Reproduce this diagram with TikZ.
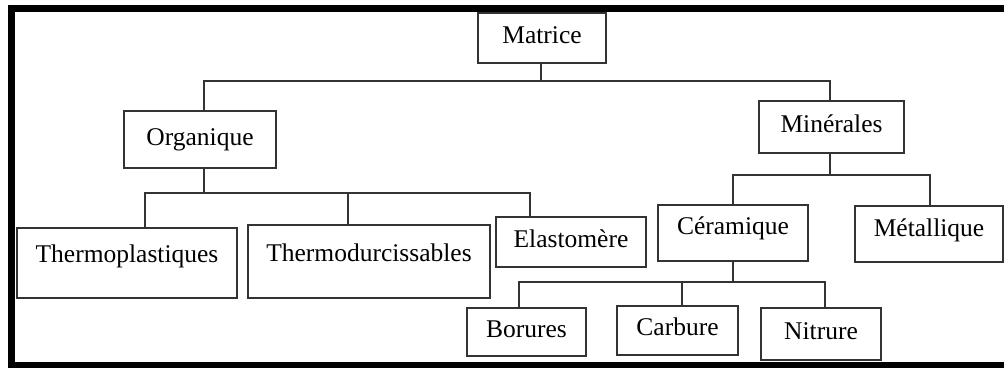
\documentclass[tikz,border=0pt]{standalone}
\usepackage{fontspec}
\setmainfont{Liberation Serif}
\tikzset{
  box/.style={draw=black!80, line width=2.1, inner sep=0pt, text height=17pt, text depth=6pt,
    font=\fontsize{25.5}{30}\selectfont, text=black},
  link/.style={draw=black!80, line width=2.1}
}
\begin{document}
\begin{tikzpicture}[x=1pt,y=-1pt]
\useasboundingbox (0,0) rectangle (1004,367);
% frame
\draw[line width=7] (1012,8.5) -- (11.5,8.5) -- (11.5,365.5) -- (1012,365.5);

% top
\node[box, minimum width=128, minimum height=50] (matrice) at (542,38) {Matrice};
\node[box, minimum width=152, minimum height=57] (organique) at (200,139.5) {Organique};
\node[box, minimum width=145, minimum height=52] (minerales) at (831.5,127) {Minérales};

% organic side
\node[box, minimum width=220, minimum height=70, text depth=18pt] (thermoplast) at (127,263) {Thermoplastiques};
\node[box, minimum width=242, minimum height=73, text depth=17pt] (thermodur) at (369,261.5) {Thermodurcissables};
\node[box, minimum width=150, minimum height=50] (elastomere) at (571,242) {Elastomère};

% mineral side
\node[box, minimum width=150, minimum height=56, text depth=14pt] (ceramique) at (733,233) {Céramique};
\node[box, minimum width=148, minimum height=56, text depth=12pt] (metallique) at (929,234) {Métallique};
\node[box, minimum width=119, minimum height=48] (borures) at (526.5,332) {Borures};
\node[box, minimum width=121, minimum height=49, text depth=8pt] (carbure) at (677.5,330.5) {Carbure};
\node[box, minimum width=120, minimum height=52, text depth=7pt] (nitrure) at (821,334) {Nitrure};

% links
\draw[link] ([xshift=-1]matrice.south) -- ++(0,17);
\draw[link] ([xshift=4]organique.north) -- ++(0,-29) -| ([xshift=-1.5]minerales.north);

\draw[link] ([xshift=4]organique.south) -- ++(0,24);
\draw[link] ([xshift=18]thermoplast.north) -- ++(0,-34) -| ([xshift=-41]elastomere.north);
\draw[link] ([xshift=-21]thermodur.north) -- ++(0,-31);

\draw[link] ([xshift=-1.5]minerales.south) -- ++(0,21);
\draw[link] (ceramique.north) -- ++(0,-29) -| ([xshift=1]metallique.north);

\draw[link] (ceramique.south) -- ++(0,20);
\draw[link] ([xshift=-7.5]borures.north) -- ++(0,-25) -| ([xshift=4]nitrure.north);
\draw[link] ([xshift=4.5]carbure.north) -- ++(0,-23);
\end{tikzpicture}
\end{document}
